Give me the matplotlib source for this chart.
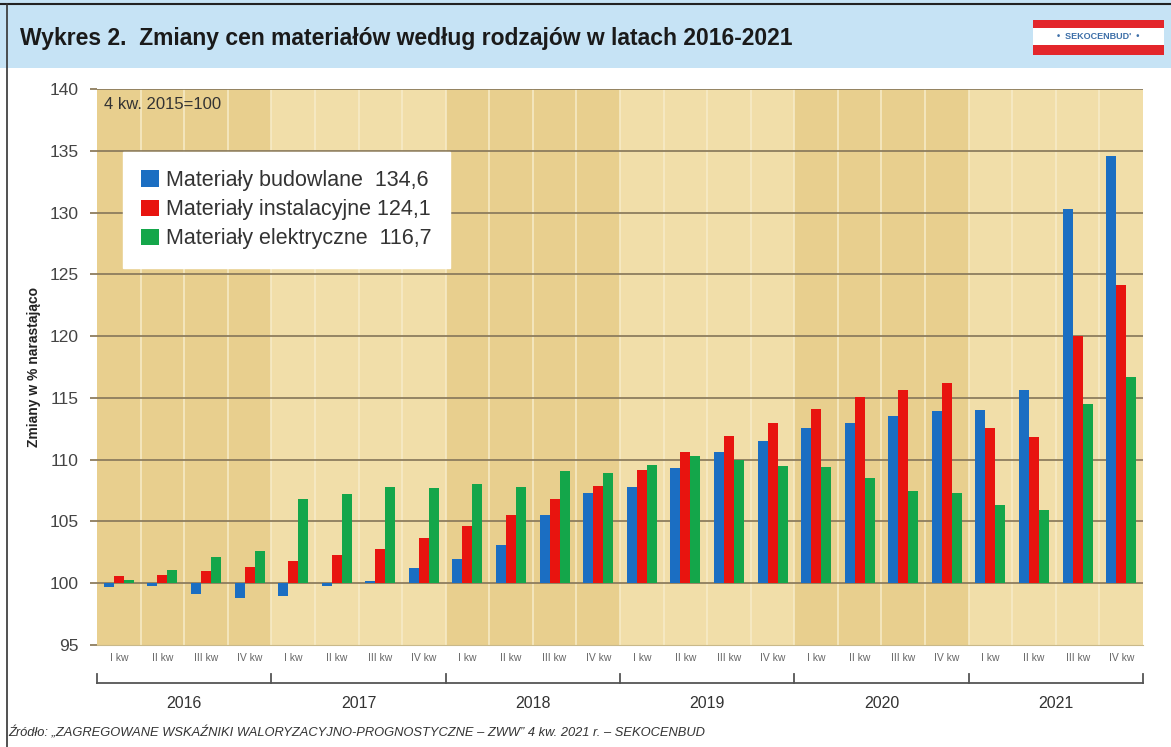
import matplotlib.pyplot as plt
from matplotlib.patches import Patch, Rectangle
from matplotlib.lines import Line2D
import matplotlib.transforms as mtransforms
import numpy as np

# --- Data (4 kw. 2015 = 100) ---
years = ["2016", "2017", "2018", "2019", "2020", "2021"]
quarters = ["I kw", "II kw", "III kw", "IV kw"]

budowlane = [99.7, 99.8, 99.1, 98.8, 99.0, 99.8, 100.2, 101.2,
             102.0, 103.1, 105.5, 107.3, 107.8, 109.3, 110.6, 111.5,
             112.6, 113.0, 113.5, 113.9, 114.0, 115.6, 130.3, 134.6]
instalacyjne = [100.6, 100.7, 101.0, 101.3, 101.8, 102.3, 102.8, 103.7,
                104.6, 105.5, 106.8, 107.9, 109.2, 110.6, 111.9, 113.0,
                114.1, 115.1, 115.6, 116.2, 112.6, 111.8, 120.0, 124.1]
elektryczne = [100.3, 101.1, 102.1, 102.6, 106.8, 107.2, 107.8, 107.7,
               108.0, 107.8, 109.1, 108.9, 109.6, 110.3, 110.0, 109.5,
               109.4, 108.5, 107.5, 107.3, 106.3, 105.9, 114.5, 116.7]

legend_labels = ["Materiały budowlane  134,6",
                 "Materiały instalacyjne 124,1",
                 "Materiały elektryczne  116,7"]

# --- Style ---
plt.rcParams.update({
    "font.family": ["Liberation Sans", "DejaVu Sans"],
})
c_blue = "#1b6ec2"
c_red = "#e8140f"
c_green = "#14a64a"
c_grid = "#8d7d5e"
band_dark = "#e8cf8e"
band_light = "#f1dea9"

fig = plt.figure(figsize=(11.71, 7.47), dpi=100)
W, H = 1171, 747

# header band
fig.patches.append(Rectangle((0, 1 - 68 / H), 1, 68 / H, transform=fig.transFigure,
                             facecolor="#c6e3f5", edgecolor="none", zorder=0))
fig.add_artist(Line2D([0, 1], [1 - 4 / H, 1 - 4 / H], transform=fig.transFigure,
                      color="#222222", lw=1.5))
fig.add_artist(Line2D([7 / W, 7 / W], [0.0, 1 - 4 / H], transform=fig.transFigure,
                      color="#333333", lw=1.2))
fig.text(20 / W, 1 - 38 / H,
         "Wykres 2.  Zmiany cen materiałów według rodzajów w latach 2016-2021",
         fontsize=16.5, fontweight="bold", color="#1a1a1a", va="center", ha="left")

# logo
lx0, lx1 = 1033 / W, 1164 / W
fig.patches.append(Rectangle((lx0, 1 - 28 / H), lx1 - lx0, 8 / H, transform=fig.transFigure,
                             facecolor="#e3262b", edgecolor="none"))
fig.patches.append(Rectangle((lx0, 1 - 45 / H), lx1 - lx0, 17 / H, transform=fig.transFigure,
                             facecolor="white", edgecolor="none"))
fig.patches.append(Rectangle((lx0, 1 - 55 / H), lx1 - lx0, 10 / H, transform=fig.transFigure,
                             facecolor="#e3262b", edgecolor="none"))
fig.text((lx0 + lx1) / 2, 1 - 36.5 / H, "•  SEKOCENBUD'  •", fontsize=6.5, fontweight="bold",
         color="#3d6fa8", ha="center", va="center")

# --- Main axes ---
ax = fig.add_axes([97 / W, 1 - 645 / H, 1046 / W, 556 / H])
n = len(budowlane)
x = np.arange(n)
w = 0.23

for k in range(len(years)):
    ax.axvspan(4 * k - 0.5, 4 * k + 3.5, color=band_dark if k % 2 == 0 else band_light,
               zorder=0, lw=0)
for b in np.arange(0.5, n - 0.5, 1.0):
    ax.axvline(b, color="#f7ecc8", lw=1.4, zorder=0.5, alpha=0.8)

yticks = np.arange(95, 141, 5)
for yt in yticks[1:]:
    ax.axhline(yt, color=c_grid, lw=1.3, zorder=1)

base = 100
ax.bar(x - w, np.array(budowlane) - base, w, bottom=base, color=c_blue, zorder=3)
ax.bar(x, np.array(instalacyjne) - base, w, bottom=base, color=c_red, zorder=3)
ax.bar(x + w, np.array(elektryczne) - base, w, bottom=base, color=c_green, zorder=3)

ax.set_xlim(-0.5, n - 0.5)
ax.set_ylim(95, 140)
ax.set_yticks(yticks)
ax.tick_params(axis="y", length=5, color=c_grid, width=1.3, labelsize=12.5,
               labelcolor="#444444", pad=8)
ax.set_xticks(x)
ax.set_xticklabels(quarters * len(years), fontsize=7.5, color="#666666")
ax.tick_params(axis="x", length=0, pad=6)
for s in ["left", "right", "top"]:
    ax.spines[s].set_visible(False)
ax.spines["bottom"].set_color("#c9b98a")

ax.set_ylabel("Zmiany w % narastająco", fontsize=10, fontweight="bold", color="#222222",
              labelpad=6)

ax.text(0.007, 0.985, "4 kw. 2015=100", transform=ax.transAxes, fontsize=12,
        color="#333333", va="top", ha="left", zorder=5)

# year brackets below the quarter labels
trans = mtransforms.blended_transform_factory(ax.transData, fig.transFigure)
y_br = 1 - 683 / H
y_tk = 1 - 674 / H
ax.add_line(Line2D([-0.5, n - 0.5], [y_br, y_br], transform=trans, color="#555555",
                   lw=1.3, clip_on=False))
for k in range(len(years) + 1):
    xb = 4 * k - 0.5
    ax.add_line(Line2D([xb, xb], [y_br, y_tk], transform=trans, color="#555555",
                       lw=1.3, clip_on=False))
for k, yr in enumerate(years):
    ax.text(4 * k + 1.5, 1 - 703 / H, yr, transform=trans, fontsize=11.5,
            color="#333333", ha="center", va="center")

# legend
handles = [Patch(facecolor=c, edgecolor="none") for c in (c_blue, c_red, c_green)]
leg = ax.legend(handles, legend_labels, loc="upper left", bbox_to_anchor=(0.025, 0.887),
                borderaxespad=0, fontsize=15.5, frameon=True, fancybox=False,
                framealpha=1, edgecolor="white", handlelength=0.8, handleheight=0.8,
                handletextpad=0.35, labelspacing=0.38, borderpad=0.85)
leg.set_zorder(6)
for t in leg.get_texts():
    t.set_color("#333333")

fig.text(8 / W, 1 - 733 / H,
         "Źródło: „ZAGREGOWANE WSKAŹNIKI WALORYZACYJNO-PROGNOSTYCZNE – ZWW” 4 kw. 2021 r. – SEKOCENBUD",
         fontsize=9.3, style="italic", color="#333333", va="center", ha="left")

fig.savefig("out.png", dpi=100, facecolor="white")
